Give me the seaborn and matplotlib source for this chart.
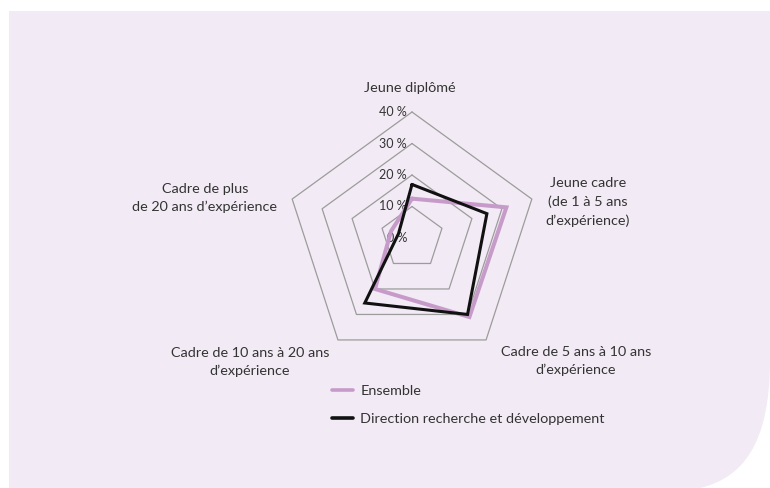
import numpy as np
import pandas as pd
import matplotlib
matplotlib.use("Agg")
import matplotlib.pyplot as plt
import seaborn as sns
from matplotlib.path import Path
from matplotlib.patches import PathPatch
from matplotlib.lines import Line2D
import matplotlib.transforms as mtransforms

# ---------------- data ----------------
categories = [
    "Jeune diplômé",
    "Jeune cadre\n(de 1 à 5 ans\nd’expérience)",
    "Cadre de 5 ans à 10 ans\nd’expérience",
    "Cadre de 10 ans à 20 ans\nd’expérience",
    "Cadre de plus\nde 20 ans d’expérience",
]
series_names = ["Ensemble", "Direction recherche et développement"]
ensemble = [12.5, 31.5, 31.0, 20.0, 7.0]
direction_rd = [17.0, 25.0, 30.0, 25.5, 4.5]
tick_levels = [0, 10, 20, 30, 40]
tick_labels = ["0 %", "10 %", "20 %", "30 %", "40 %"]

# ---------------- style ----------------
sns.set_theme(style="white")
plt.rcParams["font.family"] = ["Lato", "DejaVu Sans"]
TXT = "#333333"
PINK = "#c79bc9"
BLACK = "#111111"
GRID = "#9c9c9c"
PANEL = "#f2eaf5"
FS = 10.4

W, H = 770, 488
fig = plt.figure(figsize=(W / 100, H / 100), dpi=100)
fig.patch.set_facecolor("white")

# pixel (y-down) -> figure transform
px = mtransforms.Affine2D().scale(1 / W, -1 / H).translate(0, 1) + fig.transFigure

# background panel with rounded bottom-right corner
verts = [(9, 11), (770, 11), (770, 360), (770, 445), (742, 478), (700, 488),
         (9, 488), (9, 11)]
codes = [Path.MOVETO, Path.LINETO, Path.LINETO, Path.CURVE4, Path.CURVE4, Path.CURVE4,
         Path.LINETO, Path.CLOSEPOLY]
fig.patches.append(PathPatch(Path(verts, codes), transform=px, facecolor=PANEL,
                             edgecolor="none", zorder=-5))

# axes: centre at pixel (412, 238), 3.15 px per percentage point
cx, cy, scale = 412, 238, 3.15
half = 50
size = 2 * half * scale
ax = fig.add_axes([(cx - size / 2) / W, (H - cy - size / 2) / H, size / W, size / H])
ax.set_zorder(2)
ax.set_xlim(-half, half)
ax.set_ylim(-half, half)
ax.set_facecolor("none")
ax.axis("off")

n = len(categories)
angles = np.arange(n) * 2 * np.pi / n  # clockwise from top


def to_xy(values):
    v = np.asarray(list(values) + list(values[:1]), dtype=float)
    a = np.concatenate([angles, angles[:1]])
    return v * np.sin(a), v * np.cos(a)


# pentagonal grid
for lev in tick_levels[1:]:
    gx, gy = to_xy([lev] * n)
    ax.plot(gx, gy, color=GRID, lw=0.9, zorder=1)

# tick labels
for lev, lab in zip(tick_levels, tick_labels):
    ax.text(-1.6, lev, lab, ha="right", va="center", fontsize=9, color=TXT, zorder=2)

# series
rows = []
for name, vals in zip(series_names, [ensemble, direction_rd]):
    xs, ys = to_xy(vals)
    for i, (x, y) in enumerate(zip(xs, ys)):
        rows.append({"series": name, "order": i, "x": x, "y": y})
df = pd.DataFrame(rows)

styles = {series_names[0]: (PINK, 2.9), series_names[1]: (BLACK, 2.2)}
for k, name in enumerate(series_names):
    col, lw = styles[name]
    sns.lineplot(data=df[df.series == name], x="x", y="y", sort=False, estimator=None,
                 color=col, lw=lw, ax=ax, zorder=3 + k, legend=False)
    ax.lines[-1].set_solid_joinstyle("miter")
ax.set_xlabel("")
ax.set_ylabel("")

# category labels (pixel positions)
label_pos = [(410, 88), (588, 202), (576, 361), (250, 362), (205, 198)]
for lab, (lx, ly) in zip(categories, label_pos):
    fig.text(lx, ly, lab, transform=px, ha="center", va="center", multialignment="center",
             fontsize=FS, color=TXT, linespacing=1.6)

# legend
handles = [Line2D([], [], color=styles[s][0], lw=2.6) for s in series_names]
fig.legend(handles, series_names, loc="upper left", bbox_to_anchor=(332, 385),
           bbox_transform=px, frameon=False, fontsize=FS, handlelength=1.45,
           handletextpad=0.5, labelspacing=1.12, borderpad=0, borderaxespad=0,
           labelcolor=TXT)

fig.savefig("out.png", dpi=100)
